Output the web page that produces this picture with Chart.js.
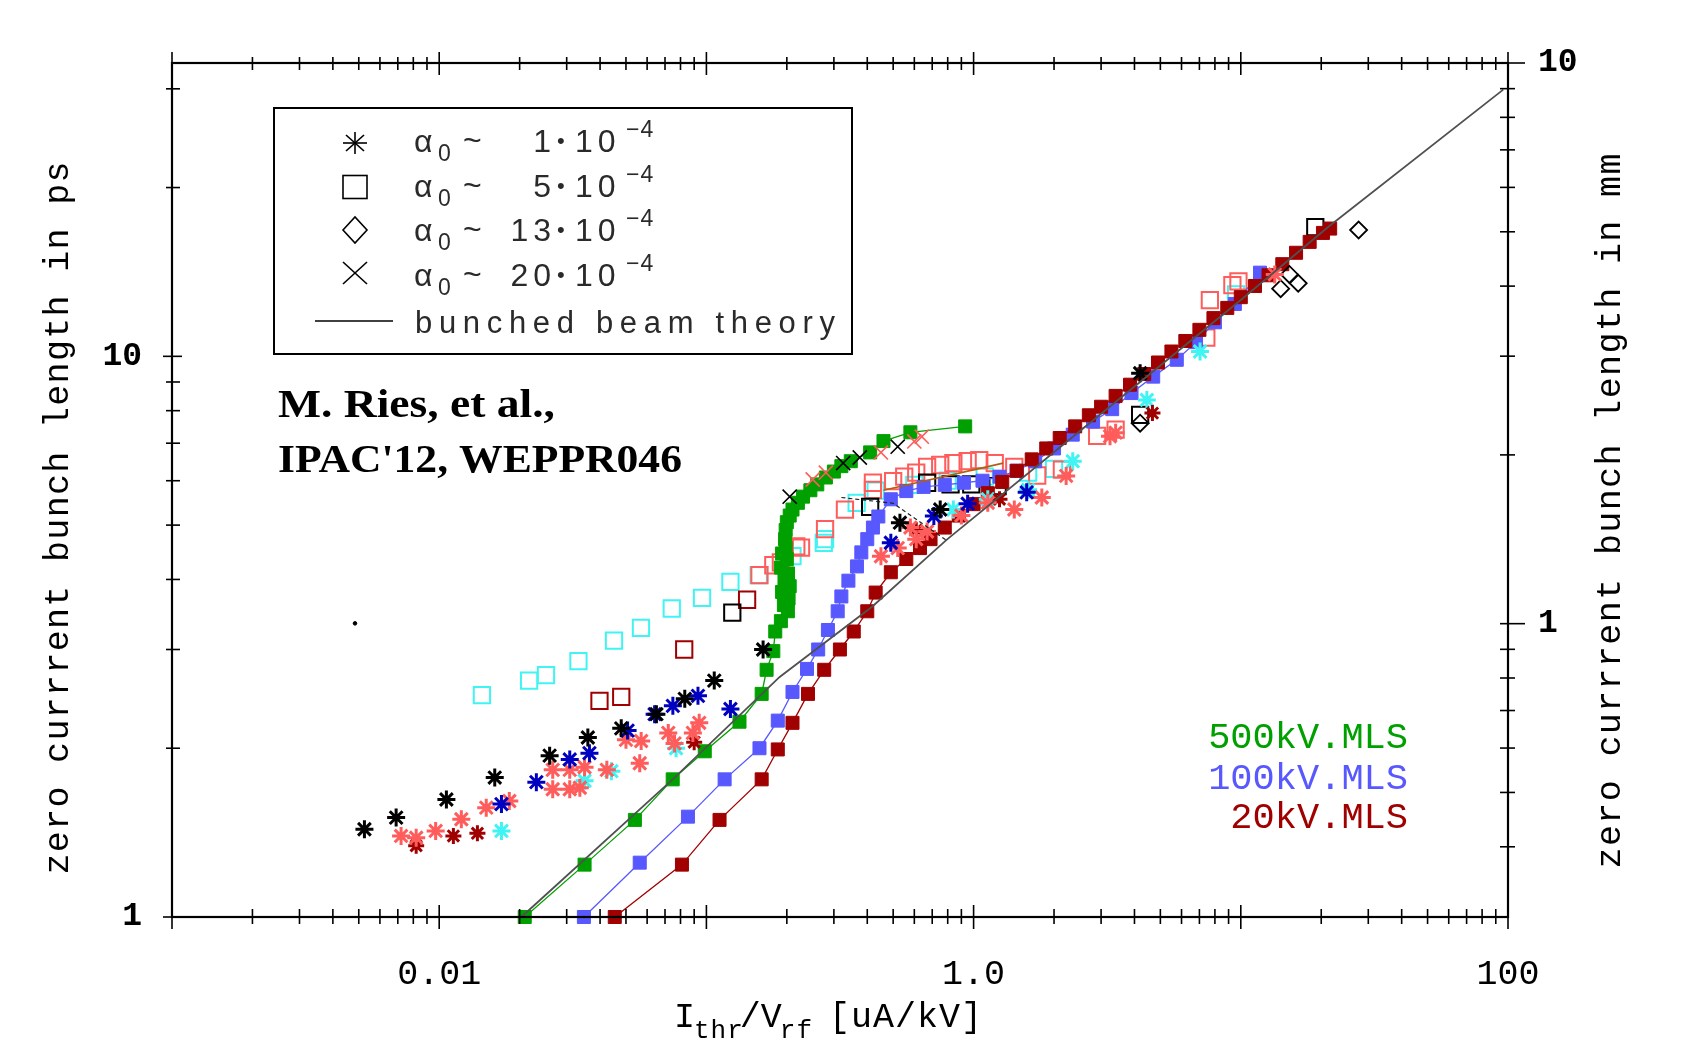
<!DOCTYPE html>
<html><head><meta charset="utf-8">
<script src="https://cdn.jsdelivr.net/npm/chart.js@4.4.1/dist/chart.umd.min.js"></script>
<style>html,body{margin:0;padding:0;background:#fff}canvas{display:block}</style>
</head><body>
<canvas id="c" width="1691" height="1053"></canvas>
<script>
// ---------- axis / label data ----------
const MM_PER_PS = 0.29979;
const xTickValues = [0.01, 1, 100];
const xTickTexts = ['0.01', '1.0', '100'];
const yTickValues = [1, 10];
const yTickTexts = ['1', '10'];
const y2TickValues = [1, 10];
const y2TickTexts = ['1', '10'];
const xMajorMarks = [0.001, 0.01, 0.1, 1, 10, 100];
const yMajorMarks = [1, 10];
const y2MajorMarks = [1, 10];
const xTitleParts = ['I', 'thr', '/V', 'rf', ' [uA/kV]'];
const yTitle = 'zero currrent bunch length in ps';
const y2Title = 'zero currrent bunch length in mm';
const mlsLabels = ['500kV.MLS', '100kV.MLS', '20kV.MLS'];
const legendNumbers = ['1', '5', '13', '20'];
const legendTheory = 'bunched beam theory';
const authorLines = ['M. Ries, et al.,', "IPAC'12, WEPPR046"];

// ---------- series (x in uA/kV, y in ps) ----------
const theory = [[0.0203,1.0],[0.0748,1.76],[0.188,2.68],[0.418,3.58],[0.794,4.71],[3.0,7.9],[10,12.6],[21.4,17.06],[96,29.9]];
const auxLine = [[0.32,5.6],[0.5,5.47],[0.79,4.70]];
const orangeLine = [[0.46,5.77],[1.29,6.45]];
const green500 = [[0.0209,1.0],[0.035,1.24],[0.054,1.49],[0.0748,1.76],[0.0986,1.975],[0.133,2.23],[0.161,2.50],[0.168,2.76],[0.178,2.98],[0.181,3.23],[0.19,3.37],[0.2018,3.51],[0.195,3.6],[0.203,3.7],[0.192,3.8],[0.205,3.89],[0.196,4.0],[0.202,4.1],[0.19,4.2],[0.2,4.35],[0.192,4.45],[0.198,4.55],[0.197,4.72],[0.198,4.9],[0.2,5.06],[0.205,5.2],[0.21,5.33],[0.22,5.48],[0.23,5.62],[0.245,5.77],[0.26,5.91],[0.28,6.08],[0.30,6.23],[0.32,6.37],[0.347,6.50],[0.41,6.74],[0.46,7.06],[0.58,7.32],[0.93,7.5]];
const blue100 = [[0.0348,1.0],[0.0563,1.25],[0.0853,1.51],[0.117,1.76],[0.158,2.0],[0.185,2.24],[0.21,2.52],[0.238,2.77],[0.262,3.0],[0.285,3.25],[0.31,3.51],[0.32,3.73],[0.34,3.98],[0.366,4.22],[0.38,4.47],[0.40,4.72],[0.42,4.95],[0.44,5.18],[0.49,5.56],[0.56,5.75],[0.65,5.85],[0.78,5.9],[0.92,5.95],[1.08,6.0],[1.25,6.1],[1.45,6.25],[1.7,6.5],[2.0,6.85],[2.35,7.25],[2.8,7.65],[3.3,8.05],[3.9,8.6],[4.7,9.2],[5.76,9.86],[6.8,10.6],[8.0,11.5],[9.5,12.4],[11.8,14.1]];
const red20 = [[0.0454,1.0],[0.081,1.24],[0.112,1.49],[0.161,1.76],[0.185,1.99],[0.21,2.22],[0.24,2.5],[0.276,2.76],[0.316,3.0],[0.356,3.23],[0.40,3.51],[0.43,3.79],[0.49,4.12],[0.56,4.35],[0.63,4.55],[0.69,4.72],[0.78,4.95],[0.88,5.2],[1.0,5.45],[1.13,5.7],[1.28,5.97],[1.45,6.25],[1.65,6.55],[1.87,6.85],[2.1,7.15],[2.4,7.5],[2.7,7.85],[3.0,8.13],[3.4,8.5],[3.85,8.9],[4.35,9.3],[4.9,9.75],[5.5,10.2],[6.2,10.65],[7.0,11.15],[7.9,11.7],[8.9,12.2],[10,12.75],[11.3,13.35],[12.7,13.95],[14.3,14.6],[16.1,15.3],[18.1,16.0],[20.3,16.6],[21.6,16.9]];

const starBlack = [[0.00525,1.434],[0.0069,1.504],[0.01064,1.62],[0.01614,1.773],[0.0259,1.94],[0.036,2.09],[0.048,2.17],[0.065,2.30],[0.083,2.45],[0.107,2.64],[0.163,3.0],[0.53,5.05],[0.75,5.33],[4.2,9.33]];
const starDarkBlue = [[0.0171,1.59],[0.0231,1.74],[0.0308,1.91],[0.0365,1.96],[0.0507,2.15],[0.064,2.30],[0.0749,2.38],[0.093,2.48],[0.123,2.35],[0.49,4.65],[0.71,5.19],[0.95,5.46],[1.58,5.72]];
const starPink = [[0.0072,1.395],[0.0082,1.385],[0.0097,1.424],[0.0121,1.494],[0.015,1.567],[0.0183,1.61],[0.0266,1.83],[0.0308,1.83],[0.035,1.85],[0.0266,1.69],[0.0308,1.69],[0.0336,1.70],[0.0424,1.83],[0.0563,1.88],[0.050,2.07],[0.057,2.06],[0.072,2.13],[0.094,2.22],[0.089,2.13],[0.076,2.04],[0.45,4.4],[0.52,4.55],[0.61,4.72],[0.67,4.87],[0.58,4.95],[0.9,5.2],[1.13,5.48],[1.42,5.33],[1.8,5.6],[2.22,6.12],[3.24,7.2],[3.4,7.31],[13.4,14.0]];
const starDarkRed = [[0.0082,1.34],[0.0113,1.395],[0.0139,1.41],[0.09,2.05],[0.61,4.9],[1.25,5.56],[4.67,7.92]];
const starCyan = [[0.0171,1.424],[0.035,1.75],[0.0441,1.82],[0.077,2.0],[0.84,5.33],[1.13,5.56],[1.6,5.78],[2.35,6.5],[4.45,8.36],[7.04,10.2]];
const boxCyan = [[0.01445,2.487],[0.0217,2.64],[0.0251,2.70],[0.0332,2.86],[0.0451,3.11],[0.0569,3.28],[0.0742,3.55],[0.0963,3.71],[0.123,3.96],[0.157,4.07],[0.21,4.4],[0.275,4.65],[0.278,4.72],[0.365,5.48],[0.43,5.76],[0.6,5.9],[0.8,6.0],[1.1,6.1],[1.6,6.2],[2.0,6.3],[9.6,12.9]];
const boxRed = [[0.158,4.07],[0.178,4.24],[0.19,4.29],[0.217,4.58],[0.226,4.56],[0.278,4.92],[0.33,5.33],[0.42,5.78],[0.42,5.95],[0.50,5.99],[0.55,6.1],[0.61,6.2],[0.67,6.35],[0.75,6.4],[0.84,6.45],[0.95,6.5],[1.05,6.53],[1.2,6.45],[1.42,6.35],[1.73,6.13],[2.14,6.28],[2.9,7.21],[3.4,7.4],[7.43,10.8],[7.66,12.6],[9.3,13.4],[9.8,13.6]];
const boxDarkRed = [[0.0398,2.43],[0.048,2.47],[0.0826,3.0],[0.142,3.68]];
const boxBlack = [[0.125,3.49],[0.41,5.39],[0.67,5.95],[0.82,5.91],[0.98,5.91],[1.23,5.87],[4.2,7.86],[19.0,17.0]];
const diamondBlack = [[4.2,7.6],[14.1,13.2],[15.2,14.0],[16.4,13.5],[27.6,16.8]];
const crossBlack = [[0.205,5.62],[0.325,6.45],[0.375,6.6],[0.52,6.9]];
const crossRed = [[0.25,6.03],[0.28,6.2],[0.45,6.74],[0.6,7.05],[0.64,7.19]];
const strayDot = [[0.00484,3.34]];

// ---------- colours ----------
const C = {green:'#00a000', blue:'#5858ff', darkred:'#a00000', pink:'#ff5c5c', cyan:'#40f4f4', navy:'#0000c0', black:'#000000', theory:'#505050', orange:'#b06010'};
const MONO = '"Liberation Mono","DejaVu Sans Mono",monospace';

function pts(a){ return a.map(([x,y]) => ({x, y})); }
function lineSet(label, data, color, order){
  return {label, data: pts(data), showLine: true, borderColor: color, borderWidth: 1.3,
    pointStyle: 'rect', pointRadius: 9.2, pointBackgroundColor: color, pointBorderColor: color,
    pointBorderWidth: 1, order, clip: false};
}
function markSet(label, data, style, color, radius, bw, order, fill){
  return {label, data: pts(data), showLine: false, pointStyle: style, pointRadius: radius,
    pointBorderColor: color, pointBackgroundColor: fill || 'rgba(0,0,0,0)', pointBorderWidth: bw, order, clip: false};
}
function plainLine(label, data, color, width, order, dash){
  return {label, data: pts(data), showLine: true, borderColor: color, borderWidth: width,
    borderDash: dash || [], pointRadius: 0, order, clip: false};
}

const datasets = [
  plainLine('bunched beam theory', theory, C.theory, 1.8, 0),
  plainLine('aux', auxLine, '#202020', 1.2, 1, [4,3]),
  plainLine('aux2', orangeLine, C.orange, 1.6, 1),
  markSet('stars black', starBlack, 'star', C.black, 9, 3, 3),
  markSet('stars navy', starDarkBlue, 'star', C.navy, 9, 3, 3),
  markSet('stars pink', starPink, 'star', C.pink, 9, 3, 3),
  markSet('stars darkred', starDarkRed, 'star', C.darkred, 8, 3, 3),
  markSet('stars cyan', starCyan, 'star', C.cyan, 9, 3, 3),
  markSet('cross black', crossBlack, 'crossRot', C.black, 10, 1.6, 3),
  markSet('cross red', crossRed, 'crossRot', C.pink, 10, 1.6, 3),
  markSet('diamond', diamondBlack, 'rectRot', C.black, 8.5, 1.8, 3),
  markSet('dot', strayDot, 'circle', C.black, 1.8, 1, 3, C.black),
  lineSet('20kV.MLS', red20, C.darkred, 5),
  lineSet('100kV.MLS', blue100, C.blue, 6),
  lineSet('500kV.MLS', green500, C.green, 7),
  markSet('box black', boxBlack, 'rect', C.black, 11.5, 2, 8),
  markSet('box darkred', boxDarkRed, 'rect', C.darkred, 11.5, 2, 8),
  markSet('box red', boxRed, 'rect', C.pink, 11.5, 2, 8),
  markSet('box cyan', boxCyan, 'rect', C.cyan, 11.5, 2, 9)
];

// ---------- helpers ----------
function spacedWidth(ctx, s, sp){ let w = 0; for (const ch of s) w += ctx.measureText(ch).width + sp; return w - sp; }
function spacedText(ctx, s, x, y, sp, align){
  const w = spacedWidth(ctx, s, sp);
  let cx = align === 'center' ? x - w/2 : (align === 'right' ? x - w : x);
  ctx.textAlign = 'left';
  for (const ch of s){ ctx.fillText(ch, cx, y); cx += ctx.measureText(ch).width + sp; }
  return cx;
}
function fitText(ctx, s, cx, y, target){
  const nat = spacedWidth(ctx, s, 0);
  const sp = (target - nat) / Math.max(1, [...s].length - 1);
  spacedText(ctx, s, cx, y, sp, 'center');
}
function seg(ctx, x1, y1, x2, y2){ ctx.beginPath(); ctx.moveTo(x1, y1); ctx.lineTo(x2, y2); ctx.stroke(); }
function minorList(lo, hi){ const out = []; for (let d = lo; d < hi * 0.999; d *= 10) for (let k = 2; k <= 9; k++) out.push(d * k); return out; }

const decor = {
  id: 'decor',
  afterDraw(chart){
    const ctx = chart.ctx;
    const {left, right, top, bottom} = chart.chartArea;
    const xs = chart.scales.x, ys = chart.scales.y, y2 = chart.scales.y2;
    ctx.save();
    ctx.strokeStyle = '#000';
    ctx.lineWidth = 2.2;
    ctx.strokeRect(left, top, right - left, bottom - top);
    ctx.lineWidth = 1.6;
    minorList(0.001, 100).forEach(v => { const p = xs.getPixelForValue(v); seg(ctx, p, bottom - 8, p, bottom + 7); seg(ctx, p, top - 6, p, top + 7); });
    xMajorMarks.forEach(v => { const p = xs.getPixelForValue(v); seg(ctx, p, bottom - 12, p, bottom + 12); seg(ctx, p, top - 11, p, top + 12); });
    minorList(1, 10).concat([20, 30]).forEach(v => { const p = ys.getPixelForValue(v); seg(ctx, left - 6, p, left + 8, p); });
    yMajorMarks.forEach(v => { const p = ys.getPixelForValue(v); seg(ctx, left - 9, p, left + 10, p); });
    [0.4,0.5,0.6,0.7,0.8,0.9].concat(minorList(1, 10)).forEach(v => { const p = y2.getPixelForValue(v); seg(ctx, right - 8, p, right + 7, p); });
    y2MajorMarks.forEach(v => { const p = y2.getPixelForValue(v); seg(ctx, right - 8, p, right + 17, p); });

    // axis titles
    ctx.fillStyle = '#000';
    ctx.textBaseline = 'alphabetic';
    ctx.font = '35px ' + MONO;
    ctx.save(); ctx.translate(68, 518); ctx.rotate(-Math.PI/2); fitText(ctx, yTitle, 0, 0, 713); ctx.restore();
    ctx.save(); ctx.translate(1620, 511); ctx.rotate(-Math.PI/2); fitText(ctx, y2Title, 0, 0, 715); ctx.restore();
    // x title with subscripts
    let cx = 674;
    ctx.font = '35px ' + MONO; cx = spacedText(ctx, xTitleParts[0], cx, 1027, 1, 'left');
    ctx.font = '26px ' + MONO; cx = spacedText(ctx, xTitleParts[1], cx - 2, 1038, 1, 'left');
    ctx.font = '35px ' + MONO; cx = spacedText(ctx, xTitleParts[2], cx - 4, 1027, 0, 'left');
    ctx.font = '26px ' + MONO; cx = spacedText(ctx, xTitleParts[3], cx - 2, 1038, 1, 'left');
    ctx.font = '35px ' + MONO; spacedText(ctx, xTitleParts[4], cx - 6, 1027, 1, 'left');

    // MLS labels
    ctx.font = '37px ' + MONO;
    const mlsCol = [C.green, C.blue, C.darkred];
    const mlsY = [748, 789, 828];
    mlsLabels.forEach((s, i) => { ctx.fillStyle = mlsCol[i]; ctx.textAlign = 'right'; ctx.fillText(s, 1408, mlsY[i]); });

    // author note
    ctx.fillStyle = '#000';
    ctx.font = 'bold 41px "Liberation Serif","DejaVu Serif",serif';
    const authW = [277, 404], authY = [417, 472];
    authorLines.forEach((s, i) => {
      const w = ctx.measureText(s).width;
      ctx.save(); ctx.translate(278, authY[i]); ctx.scale(authW[i] / w, 1); ctx.textAlign = 'left'; ctx.fillText(s, 0, 0); ctx.restore();
    });

    // legend box
    ctx.lineWidth = 2;
    ctx.strokeStyle = '#000';
    ctx.strokeRect(274, 108, 578, 246);
    const sx = 355;
    ctx.lineWidth = 1.6;
    let yy = 143;
    seg(ctx, sx - 12, yy, sx + 12, yy); seg(ctx, sx, yy - 11, sx, yy + 11);
    seg(ctx, sx - 9, yy - 8, sx + 9, yy + 8); seg(ctx, sx - 9, yy + 8, sx + 9, yy - 8);
    yy = 187; ctx.strokeRect(sx - 12, yy - 11.5, 24, 23);
    yy = 230; ctx.beginPath(); ctx.moveTo(sx - 12, yy); ctx.lineTo(sx, yy - 13); ctx.lineTo(sx + 12, yy); ctx.lineTo(sx, yy + 13); ctx.closePath(); ctx.stroke();
    yy = 273; seg(ctx, sx - 12, yy - 11, sx + 12, yy + 11); seg(ctx, sx - 12, yy + 11, sx + 12, yy - 11);
    seg(ctx, 315, 321, 393, 321);

    ctx.fillStyle = '#2a2a2a';
    const rowBase = [152, 197, 241, 286];
    legendNumbers.forEach((n, i) => {
      const b = rowBase[i];
      ctx.font = '32px "Liberation Sans","DejaVu Sans",sans-serif';
      ctx.textAlign = 'left'; ctx.fillText('\u03b1', 414, b);
      ctx.font = '23px "Liberation Sans","DejaVu Sans",sans-serif';
      ctx.fillText('0', 438, b + 9);
      ctx.font = '32px "Liberation Sans","DejaVu Sans",sans-serif';
      ctx.fillText('~', 463, b - 1);
      spacedText(ctx, n, 551, b, 5, 'right');
      ctx.font = '22px "Liberation Sans","DejaVu Sans",sans-serif';
      ctx.fillText('\u2022', 557, b - 4);
      ctx.font = '32px "Liberation Sans","DejaVu Sans",sans-serif';
      spacedText(ctx, '10', 575, b, 5, 'left');
      ctx.font = '23px "Liberation Sans","DejaVu Sans",sans-serif';
      spacedText(ctx, '\u22124', 626, b - 15, 1, 'left');
    });
    ctx.font = '31px "Liberation Sans","DejaVu Sans",sans-serif';
    const tw = spacedWidth(ctx, legendTheory, 0);
    spacedText(ctx, legendTheory, 415, 333, (420 - tw) / (legendTheory.length - 1), 'left');
    ctx.restore();
  }
};

function pick(vals, texts){ return v => { const i = vals.findIndex(t => Math.abs(t - v) / t < 1e-6); return i < 0 ? '' : texts[i]; }; }

new Chart(document.getElementById('c'), {
  type: 'scatter',
  data: {datasets},
  options: {
    responsive: false,
    animation: false,
    events: [],
    layout: {padding: {top: 63, left: 0, right: 0, bottom: 0}},
    plugins: {legend: {display: false}, tooltip: {enabled: false}, title: {display: false}},
    scales: {
      x: {type: 'logarithmic', position: 'bottom', min: 0.001, max: 100,
        afterBuildTicks: s => { s.ticks = xTickValues.map(v => ({value: v})); },
        afterFit: s => { s.height = 136; },
        grid: {display: false}, border: {display: false},
        ticks: {callback: pick(xTickValues, xTickTexts), font: {family: MONO, size: 35}, color: '#000', padding: 29, maxRotation: 0, autoSkip: false}},
      y: {type: 'logarithmic', position: 'left', min: 1, max: 10 / MM_PER_PS,
        afterBuildTicks: s => { s.ticks = yTickValues.map(v => ({value: v})); },
        afterFit: s => { s.width = 172; },
        grid: {display: false}, border: {display: false},
        ticks: {callback: pick(yTickValues, yTickTexts), font: {family: MONO, size: 33, weight: 'bold'}, color: '#000', padding: 22, autoSkip: false}},
      y2: {type: 'logarithmic', position: 'right', min: MM_PER_PS, max: 10,
        afterBuildTicks: s => { s.ticks = y2TickValues.map(v => ({value: v})); },
        afterFit: s => { s.width = 183; },
        grid: {display: false}, border: {display: false},
        ticks: {callback: pick(y2TickValues, y2TickTexts), font: {family: MONO, size: 33, weight: 'bold'}, color: '#000', padding: 22, autoSkip: false}}
    }
  },
  plugins: [decor]
});
</script>
</body></html>
